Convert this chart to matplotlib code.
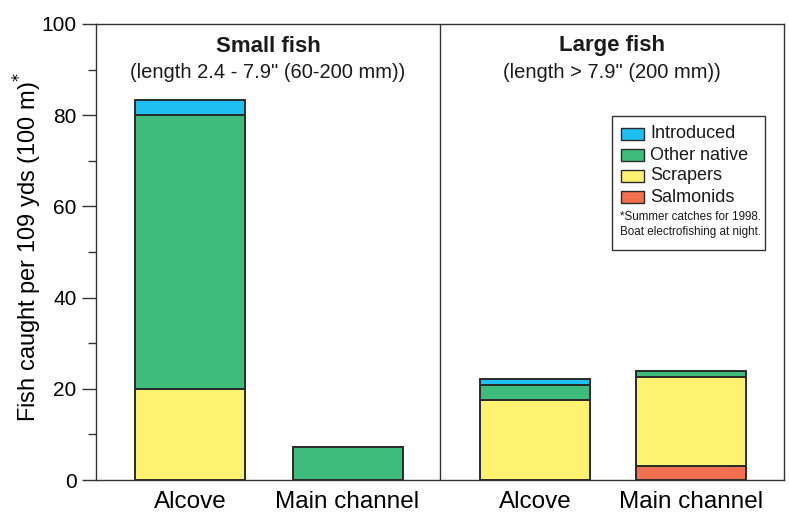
import matplotlib
matplotlib.use("Agg")
import matplotlib.pyplot as plt
from matplotlib.patches import Rectangle
import numpy as np

plt.rcParams['font.family'] = ['Liberation Sans', 'DejaVu Sans']

# Site labels for each bar (small fish pair, then large fish pair)
sites = ["Alcove", "Main channel", "Alcove", "Main channel"]

# Catch per 109 yds (100 m), stacked bottom to top
salmonids = [0.0, 0.0, 0.0, 3.0]
scrapers = [20.0, 0.0, 17.6, 19.6]
other_native = [60.0, 7.2, 3.3, 1.2]
introduced = [3.3, 0.0, 1.2, 0.0]

series_names = ["Salmonids", "Scrapers", "Other native", "Introduced"]
series_colors = ["#F26F50", "#FFF271", "#3DBC7B", "#1EC0F2"]
edge = "#2a2a2a"

# Bar layout along the x axis
positions = [0.94, 2.515, 4.39, 5.95]
bar_width = 1.1
divider_x = 3.44
x_max = 6.88

W, H = 789, 513
AX_L, AX_T, AX_W, AX_H = 96, 24, 688, 456

fig = plt.figure(figsize=(W / 100, H / 100), dpi=100)
ax = fig.add_axes([AX_L / W, (H - AX_T - AX_H) / H, AX_W / W, AX_H / H])


def fx(px):
    return (px - AX_L) / AX_W


def fy(py):
    return 1 - (py - AX_T) / AX_H


bottom = np.zeros(len(sites))
for vals, name, color in zip([salmonids, scrapers, other_native, introduced],
                             series_names, series_colors):
    v = np.array(vals)
    mask = v > 0
    ax.bar(np.array(positions)[mask], v[mask], bar_width, bottom=bottom[mask],
           color=color, edgecolor=edge, linewidth=1.4, zorder=2)
    bottom += v

ax.set_xlim(0, x_max)
ax.set_ylim(0, 100)
ax.axvline(divider_x, color="#333333", linewidth=1.0, zorder=1)

ax.set_xticks(positions)
ax.set_xticklabels(sites, fontsize=17.5)
ax.tick_params(axis="x", length=0, pad=8)

ax.set_yticks(np.arange(0, 101, 20))
ax.set_yticks(np.arange(10, 100, 20), minor=True)
ax.tick_params(axis="y", which="major", length=10, width=1.0, labelsize=15,
               direction="out", pad=4, color="#333333")
ax.tick_params(axis="y", which="minor", length=6, width=1.0, direction="out",
               color="#333333")

for s in ax.spines.values():
    s.set_color("#333333")
    s.set_linewidth(1.0)

ax.set_ylabel("Fish caught per 109 yds (100 m)$^{*}$", fontsize=17)
ax.yaxis.set_label_coords(fx(44), 0.51)

# Panel headings
for cx, head, sub in [(divider_x / 2, "Small fish", "(length 2.4 - 7.9\" (60-200 mm))"),
                      ((divider_x + x_max) / 2, "Large fish", "(length > 7.9\" (200 mm))")]:
    ax.text(cx, 100 * fy(46), head, ha="center", va="center",
            fontsize=16, fontweight="bold", color="#1a1a1a")
    ax.text(cx, 100 * fy(73), sub, ha="center", va="center", fontsize=14.5,
            color="#1a1a1a")

# Legend box with footnote, top entry first
ax.add_patch(Rectangle((fx(612), fy(250)), fx(765) - fx(612), fy(116) - fy(250),
                       transform=ax.transAxes, facecolor="white",
                       edgecolor="#333333", linewidth=1.0, zorder=5))
entry_y = [134, 155, 176, 197]
for py, name, color in zip(entry_y, series_names[::-1], series_colors[::-1]):
    ax.add_patch(Rectangle((fx(621), fy(py + 6)), fx(644) - fx(621), fy(py - 6) - fy(py + 6),
                           transform=ax.transAxes, facecolor=color,
                           edgecolor=edge, linewidth=1.0, zorder=6))
    ax.text(fx(650), fy(py), name, transform=ax.transAxes, ha="left",
            va="center", fontsize=13, color="#1a1a1a", zorder=6)

ax.text(fx(761), fy(217), "*Summer catches for 1998.", transform=ax.transAxes,
        ha="right", va="center", fontsize=8.4, color="#1a1a1a", zorder=6)
ax.text(fx(761), fy(232), "Boat electrofishing at night.", transform=ax.transAxes,
        ha="right", va="center", fontsize=8.4, color="#1a1a1a", zorder=6)

fig.savefig("out.png", dpi=100)
